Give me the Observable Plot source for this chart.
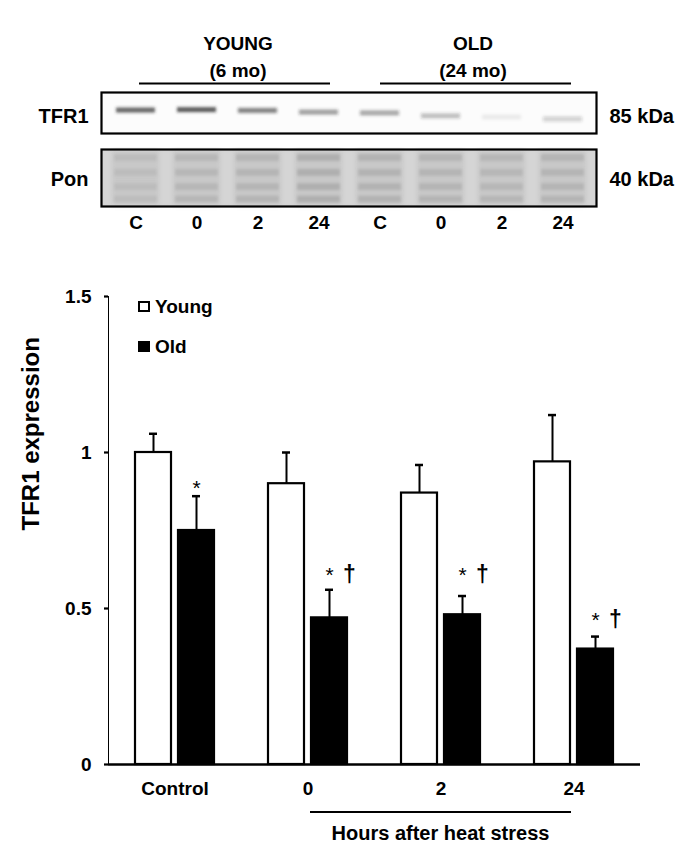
<!DOCTYPE html>
<html>
<head>
<meta charset="utf-8">
<script src="https://cdn.jsdelivr.net/npm/d3@7"></script>
<script src="https://cdn.jsdelivr.net/npm/@observablehq/plot@0.6"></script>
<style>
  html, body { margin: 0; padding: 0; background: #fff; }
  body { width: 690px; font-family: "Liberation Sans", Arial, sans-serif; color: #000; }
  #root { position: relative; width: 690px; height: 864px; overflow: hidden; }
  #root svg { display: block; }
  .barwrap { position: relative; }
  .legend { position: absolute; left: 138px; top: 0; font-weight: bold; font-size: 19px; line-height: 1; }
  .legend .item { position: absolute; left: 0; white-space: nowrap; display: flex; align-items: center; }
  .legend .sw { display: inline-block; width: 12px; height: 11px; box-sizing: border-box; border: 2px solid #000; margin-right: 5px; }
  .caption { position: relative; height: 64px; }
  .caption .line { position: absolute; left: 310px; width: 261px; top: 11px; height: 2px; background: #000; }
  .caption .txt { position: absolute; left: 310px; width: 261px; top: 22px; text-align: center; font-weight: bold; font-size: 20px; }
</style>
</head>
<body>
<div id="root"></div>
<script>
// ---------- Western blot data ----------
const laneIds = ["Y-C", "Y-0", "Y-2", "Y-24", "O-C", "O-0", "O-2", "O-24"];
const laneLabels = ["C", "0", "2", "24", "C", "0", "2", "24"];
const ageGroups = ["YOUNG", "OLD"];
const ageLabels = ["(6 mo)", "(24 mo)"];
const tfr1Intensity = [0.72, 0.78, 0.58, 0.45, 0.42, 0.30, 0.07, 0.20];
const tfr1Position = [0.44, 0.43, 0.45, 0.49, 0.51, 0.58, 0.61, 0.66];
const ponRows = [0.15, 0.41, 0.66, 0.88];
const ponIntensity = [0.22, 0.30, 0.34, 0.45, 0.40, 0.36, 0.32, 0.36];
const blotRowLabels = ["TFR1", "Pon"];
const blotSizeLabels = ["85 kDa", "40 kDa"];

// ---------- Bar chart data ----------
const groups = ["Control", "0", "2", "24"];
const series = ["Young", "Old"];
const youngMean = [1.00, 0.90, 0.87, 0.97];
const youngSE = [0.06, 0.10, 0.09, 0.15];
const oldMean = [0.75, 0.47, 0.48, 0.37];
const oldSE = [0.11, 0.09, 0.06, 0.04];
const oldStar = ["*", "*", "*", "*"];
const oldDagger = ["", "†", "†", "†"];
const annotationY = [0.865, 0.585, 0.585, 0.44];
const yTicks = [0, 0.5, 1, 1.5];
const yTickLabels = ["0", "0.5", "1", "1.5"];
const yTitle = "TFR1 expression";
const xTitle = "Hours after heat stress";

const FONT = '"Liberation Sans", Arial, sans-serif';
const baseStyle = {fontFamily: FONT, fontSize: "19px", fontWeight: "bold", color: "#000", background: "#fff", overflow: "visible"};
const root = document.getElementById("root");
const NS = "http://www.w3.org/2000/svg";
let filterCount = 0;

// find the rendered groups of rects (bar marks) in mark order
function rectGroups(svg) {
  return Array.from(svg.querySelectorAll("g")).filter(g => g.children.length > 0 && Array.from(g.children).every(c => c.tagName.toLowerCase() === "rect"));
}
function blurGroup(svg, g, sd) {
  const id = "blur" + (filterCount++);
  const defs = document.createElementNS(NS, "defs");
  svg.insertBefore(defs, svg.firstChild);
  const f = document.createElementNS(NS, "filter");
  f.setAttribute("id", id);
  f.setAttribute("filterUnits", "userSpaceOnUse");
  f.setAttribute("x", "0"); f.setAttribute("y", "0");
  f.setAttribute("width", "690"); f.setAttribute("height", "300");
  const b = document.createElementNS(NS, "feGaussianBlur");
  b.setAttribute("stdDeviation", String(sd));
  f.appendChild(b);
  defs.appendChild(f);
  g.setAttribute("filter", `url(#${id})`);
}

// ---------- Header (YOUNG / OLD) ----------
const headerData = ageGroups.map((g, i) => ({group: g, age: ageLabels[i]}));
const header = Plot.plot({
  width: 690, height: 90,
  marginLeft: 120, marginRight: 100, marginTop: 40, marginBottom: 7,
  style: baseStyle,
  x: {domain: ageGroups, padding: 0, axis: null},
  y: {domain: [0, 1], axis: null},
  marks: [
    Plot.text(headerData, {x: "group", y: () => 0, text: "group", dy: -40, fontSize: 19, fontWeight: "bold"}),
    Plot.text(headerData, {x: "group", y: () => 0, text: "age", dy: -13, fontSize: 19, fontWeight: "bold"}),
    Plot.tickY(headerData.slice(0, 1), {x: "group", y: () => 0, insetLeft: 19, insetRight: 25, stroke: "#000", strokeWidth: 2}),
    Plot.tickY(headerData.slice(1), {x: "group", y: () => 0, insetLeft: 25, insetRight: 19, stroke: "#000", strokeWidth: 2})
  ]
});
root.appendChild(header);

// ---------- TFR1 strip ----------
const tfrData = laneIds.map((id, i) => ({lane: id, pos: tfr1Position[i], k: tfr1Intensity[i]}));
const tfr = Plot.plot({
  width: 690, height: 57,
  marginLeft: 101, marginRight: 94, marginTop: 2, marginBottom: 14,
  style: baseStyle,
  x: {domain: laneIds, padding: 0, axis: null},
  y: {domain: [0, 1], reverse: true, axis: null},
  marks: [
    Plot.frame({fill: "#fcfcfc", stroke: null}),
    Plot.barY(tfrData, {x: "lane", y1: d => d.pos - 0.06, y2: d => d.pos + 0.06, fill: "#2a2a2a", fillOpacity: "k", insetLeft: 11, insetRight: 11}),
    Plot.frame({stroke: "#000", strokeWidth: 2.2}),
    Plot.text([blotRowLabels[0]], {text: d => d, frameAnchor: "left", textAnchor: "end", dx: -13, dy: 4, fontSize: 20, fontWeight: "bold"}),
    Plot.text([blotSizeLabels[0]], {text: d => d, frameAnchor: "right", textAnchor: "start", dx: 13, dy: 4, fontSize: 20, fontWeight: "bold"})
  ]
});
{
  const gs = rectGroups(tfr).filter(g => g.children.length === laneIds.length);
  gs.forEach(g => blurGroup(tfr, g, 1.6));
}
root.appendChild(tfr);

// ---------- Ponceau strip ----------
const ponStripes = laneIds.flatMap((id, i) => ponRows.map(r => ({lane: id, pos: r, k: ponIntensity[i]})));
const laneLabelOf = new Map(laneIds.map((id, i) => [id, laneLabels[i]]));
const pon = Plot.plot({
  width: 690, height: 93,
  marginLeft: 101, marginRight: 94, marginTop: 2, marginBottom: 34,
  style: baseStyle,
  x: {domain: laneIds, padding: 0, tickSize: 0, tickPadding: 9, tickFormat: d => laneLabelOf.get(d), label: null},
  y: {domain: [0, 1], reverse: true, axis: null},
  marks: [
    Plot.frame({fill: "#d5d5d5", stroke: null}),
    Plot.barY(laneIds, {x: d => d, y1: () => 0.03, y2: () => 0.97, fill: "#c8c8c8", insetLeft: 7, insetRight: 7}),
    Plot.barY(ponStripes, {x: "lane", y1: d => d.pos - 0.06, y2: d => d.pos + 0.06, fill: "#909090", fillOpacity: "k", insetLeft: 9, insetRight: 9}),
    Plot.frame({stroke: "#000", strokeWidth: 2.2}),
    Plot.text([blotRowLabels[1]], {text: d => d, frameAnchor: "left", textAnchor: "end", dx: -13, dy: 2, fontSize: 20, fontWeight: "bold"}),
    Plot.text([blotSizeLabels[1]], {text: d => d, frameAnchor: "right", textAnchor: "start", dx: 13, dy: 2, fontSize: 20, fontWeight: "bold"})
  ]
});
{
  const gs = rectGroups(pon);
  gs.filter(g => g.children.length === laneIds.length).forEach(g => blurGroup(pon, g, 2.5));
  gs.filter(g => g.children.length === ponStripes.length).forEach(g => blurGroup(pon, g, 1.6));
}
root.appendChild(pon);

// ---------- Bar chart ----------
const youngData = groups.map((g, i) => ({group: g, series: series[0], mean: youngMean[i], se: youngSE[i]}));
const oldData = groups.map((g, i) => ({group: g, series: series[1], mean: oldMean[i], se: oldSE[i], star: oldStar[i], dagger: oldDagger[i], ay: annotationY[i]}));

const bars = Plot.plot({
  width: 690, height: 560,
  marginLeft: 108, marginRight: 50, marginTop: 56, marginBottom: 36,
  style: baseStyle,
  x: {domain: groups, padding: 0, tickSize: 0, tickPadding: 17, label: null},
  y: {domain: [0, 1.5], ticks: yTicks, tickFormat: d => yTickLabels[yTicks.indexOf(d)], tickSize: 4, tickPadding: 13, line: true, label: null},
  marks: [
    Plot.ruleX(youngData, {x: "group", y1: "mean", y2: d => d.mean + d.se, dx: -21.5, stroke: "#000", strokeWidth: 2}),
    Plot.tickY(youngData, {x: "group", y: d => d.mean + d.se, insetLeft: 41, insetRight: 84, stroke: "#000", strokeWidth: 2.5}),
    Plot.ruleX(oldData, {x: "group", y1: "mean", y2: d => d.mean + d.se, dx: 21.5, stroke: "#000", strokeWidth: 2}),
    Plot.tickY(oldData, {x: "group", y: d => d.mean + d.se, insetLeft: 84, insetRight: 41, stroke: "#000", strokeWidth: 2.5}),
    Plot.barY(youngData, {x: "group", y: "mean", fill: "#fff", stroke: "#000", strokeWidth: 2.2, insetLeft: 27, insetRight: 70}),
    Plot.barY(oldData, {x: "group", y: "mean", fill: "#000", stroke: "#000", strokeWidth: 2.2, insetLeft: 70, insetRight: 27}),
    Plot.ruleY([0], {stroke: "#000", strokeWidth: 2.5}),
    Plot.text(oldData, {x: "group", y: "ay", text: "star", dx: 21.5, lineAnchor: "bottom", fill: "#000", fontSize: 21, fontWeight: "normal"}),
    Plot.text(oldData, {x: "group", y: "ay", text: "dagger", dx: 41.5, lineAnchor: "bottom", fill: "#000", fontSize: 23, fontWeight: "bold"}),
    Plot.text([yTitle], {text: d => d, frameAnchor: "left", rotate: -90, dx: -77, fill: "#000", fontSize: 24, fontWeight: "bold"})
  ]
});
bars.querySelectorAll('[aria-label^="y-axis"]').forEach(g => g.setAttribute("stroke-width", "2.2"));

const barWrap = document.createElement("div");
barWrap.className = "barwrap";
barWrap.appendChild(bars);
const legend = document.createElement("div");
legend.className = "legend";
legend.innerHTML =
  `<div class="item" style="top:57px"><span class="sw" style="background:#fff"></span>${series[0]}</div>` +
  `<div class="item" style="top:97px"><span class="sw" style="background:#000"></span>${series[1]}</div>`;
barWrap.appendChild(legend);
root.appendChild(barWrap);

const caption = document.createElement("div");
caption.className = "caption";
caption.innerHTML = `<div class="line"></div><div class="txt">${xTitle}</div>`;
root.appendChild(caption);
</script>
</body>
</html>
